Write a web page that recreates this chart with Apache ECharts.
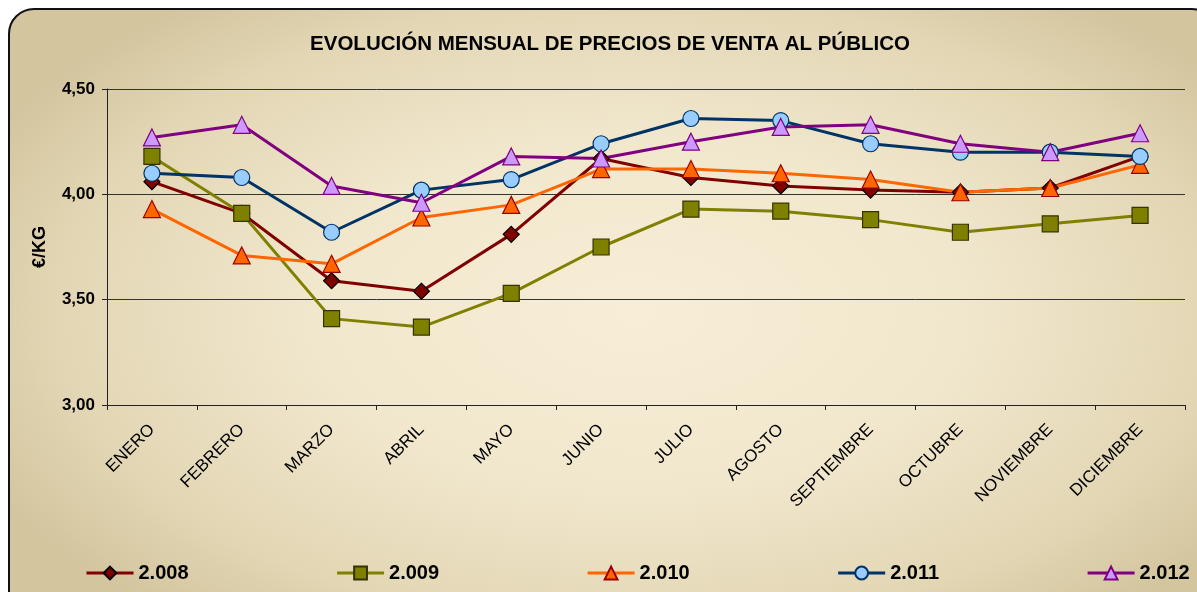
<!DOCTYPE html>
<html>
<head>
<meta charset="utf-8">
<script src="https://cdn.jsdelivr.net/npm/echarts@6/dist/echarts.min.js"></script>
<style>
  html, body { margin: 0; padding: 0; background: #fff; overflow: hidden; }
  #frame {
    position: absolute; left: 8px; top: 8px; width: 1210px; height: 610px;
    border: 2px solid #111; border-radius: 26px; box-sizing: border-box;
    background: radial-gradient(ellipse 60% 65% at 52% 50%, #f8eed6 0%, #f1e7cd 45%, #e2d6b4 80%, #d3c59e 100%);
  }
  #chart { position: absolute; left: 0; top: 0; width: 1197px; height: 592px; }
</style>
</head>
<body>
<div id="frame"></div>
<div id="chart"></div>
<script>
const months = ['ENERO', 'FEBRERO', 'MARZO', 'ABRIL', 'MAYO', 'JUNIO', 'JULIO', 'AGOSTO',
  'SEPTIEMBRE', 'OCTUBRE', 'NOVIEMBRE', 'DICIEMBRE'];

const y2008 = [4.06, 3.91, 3.59, 3.54, 3.81, 4.17, 4.08, 4.04, 4.02, 4.01, 4.03, 4.18];
const y2009 = [4.18, 3.91, 3.41, 3.37, 3.53, 3.75, 3.93, 3.92, 3.88, 3.82, 3.86, 3.90];
const y2010 = [3.93, 3.71, 3.67, 3.89, 3.95, 4.12, 4.12, 4.10, 4.07, 4.01, 4.03, 4.14];
const y2011 = [4.10, 4.08, 3.82, 4.02, 4.07, 4.24, 4.36, 4.35, 4.24, 4.20, 4.20, 4.18];
const y2012 = [4.27, 4.33, 4.04, 3.96, 4.18, 4.17, 4.25, 4.32, 4.33, 4.24, 4.20, 4.29];

const yTicks = { min: 3, max: 4.5, step: 0.5 };

const font = "'Liberation Sans', Arial, sans-serif";

function makeSeries(name, data, symbol, lineColor, fill, border, size) {
  return {
    name: name,
    type: 'line',
    data: data,
    symbol: symbol,
    symbolSize: size,
    lineStyle: { color: lineColor, width: 3 },
    itemStyle: { color: fill, borderColor: border, borderWidth: 1.2 },
    emphasis: { disabled: true }
  };
}

const chart = echarts.init(document.getElementById('chart'));
chart.setOption({
  backgroundColor: 'transparent',
  animation: false,
  title: {
    text: 'EVOLUCIÓN MENSUAL DE PRECIOS DE VENTA AL PÚBLICO',
    left: 605, textAlign: 'center', top: 29,
    textStyle: { fontFamily: font, fontWeight: 'bold', fontSize: 20.5, color: '#000' }
  },
  grid: { left: 107, right: 12, top: 89, bottom: 187, containLabel: false },
  legend: {
    left: 85, top: 563, width: 1112, padding: 0, itemWidth: 47, itemHeight: 16, itemGap: 147,
    lineStyle: { width: 3 },
    textStyle: { fontFamily: font, fontWeight: 'bold', fontSize: 20, color: '#000' },
    data: ['2.008', '2.009', '2.010', '2.011', '2.012']
  },
  xAxis: {
    type: 'category',
    data: months,
    boundaryGap: true,
    axisLine: { lineStyle: { color: '#222', width: 1 } },
    axisTick: { show: true, alignWithLabel: false, length: 5, lineStyle: { color: '#222' } },
    axisLabel: {
      rotate: 45, margin: 22, interval: 0, fontFamily: font, fontSize: 17, color: '#000'
    }
  },
  yAxis: {
    type: 'value',
    min: yTicks.min, max: yTicks.max, interval: yTicks.step,
    name: '€/KG', nameLocation: 'middle', nameGap: 58, nameRotate: 90,
    nameTextStyle: { fontFamily: font, fontWeight: 'bold', fontSize: 18, color: '#000' },
    axisLine: { show: true, lineStyle: { color: '#222', width: 1 } },
    axisTick: { show: true, length: 5, lineStyle: { color: '#222' } },
    axisLabel: {
      margin: 12, fontFamily: font, fontWeight: 'bold', fontSize: 17, color: '#000',
      formatter: function (v) { return v.toFixed(2).replace('.', ','); }
    },
    splitLine: { show: true, lineStyle: { color: '#333', width: 1 } }
  },
  series: [
    makeSeries('2.008', y2008, 'diamond', '#800000', '#800000', '#000', 16),
    makeSeries('2.009', y2009, 'rect', '#808000', '#808000', '#333300', 16),
    makeSeries('2.010', y2010, 'triangle', '#FF6600', '#FF6600', '#990000', 17),
    makeSeries('2.011', y2011, 'circle', '#003366', '#99CCFF', '#003366', 16),
    makeSeries('2.012', y2012, 'triangle', '#800080', '#CC99FF', '#800080', 17)
  ]
});
</script>
</body>
</html>
